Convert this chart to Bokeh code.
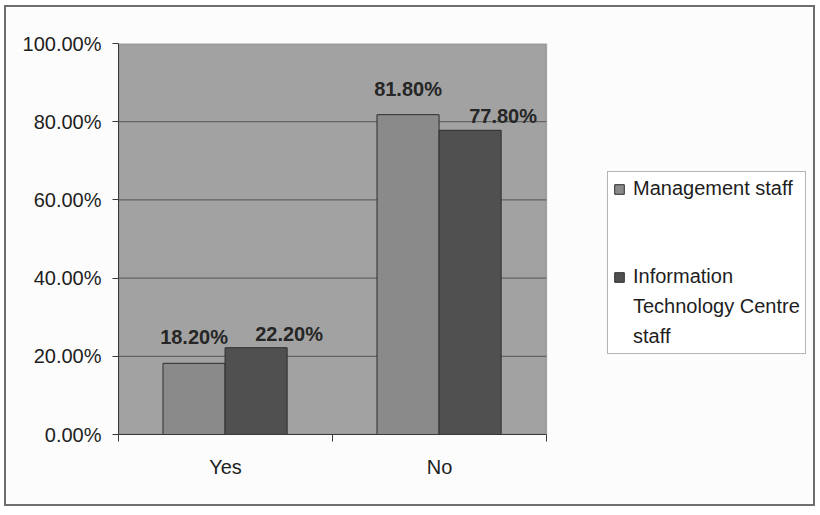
from bokeh.plotting import figure
from bokeh.models import (ColumnDataSource, Range1d, FixedTicker, LinearAxis,
                          NumeralTickFormatter, Legend, LegendItem, BoxAnnotation)
from bokeh.core.properties import value
from bokeh.embed import file_html
from bokeh.resources import INLINE
import numpy as np

# Survey answers, share of respondents
categories = ["Yes", "No"]
management_staff = [0.182, 0.818]
itc_staff = [0.222, 0.778]
y_ticks = [0.0, 0.2, 0.4, 0.6, 0.8, 1.0]

FONT = "Liberation Sans"
TEXT = "#1e1e1e"

# layout (pixels): the data area is 428 px wide, the frame also holds the legend
AREA_W, FRAME_W, FRAME_H = 428, 692, 391
n = len(categories)
x_end = n * FRAME_W / AREA_W

centers = np.arange(n) + 0.5
bar_w = 0.29
mgmt_x = centers - 0.147
itc_x = centers + 0.143

src_m = ColumnDataSource(dict(x=mgmt_x, top=management_staff,
                              label=[f"{v * 100:.2f}%" for v in management_staff]))
src_i = ColumnDataSource(dict(x=itc_x, top=itc_staff,
                              label=[f"{v * 100:.2f}%" for v in itc_staff]))

p = figure(frame_width=FRAME_W, frame_height=FRAME_H,
           output_backend="svg", toolbar_location=None,
           x_range=Range1d(0, x_end), y_range=Range1d(0, 1),
           x_axis_type=None, y_axis_type=None,
           min_border_left=112, min_border_right=3,
           min_border_top=36, min_border_bottom=70)
p.margin = (5, 0, 0, 4)
p.styles = {"border": "2px solid #6e6e6e"}
p.background_fill_color = "#fcfcfc"
p.border_fill_color = "#fcfcfc"
p.outline_line_color = None
p.xgrid.visible = False
p.ygrid.visible = False

# grey plot area
p.add_layout(BoxAnnotation(left=0, right=n, bottom=0, top=1, level="underlay",
                           fill_color="#a2a2a2", fill_alpha=1,
                           line_color="#4a4a4a", line_width=1.5))

# y axis
yax = LinearAxis(ticker=FixedTicker(ticks=y_ticks), bounds=(0, 1),
                 formatter=NumeralTickFormatter(format="0.00%"))
yax.axis_line_color = "#3a3a3a"
yax.major_tick_line_color = "#3a3a3a"
yax.major_tick_out = 6
yax.major_tick_in = 0
yax.minor_tick_line_color = None
yax.major_label_standoff = 11
yax.major_label_text_font = FONT
yax.major_label_text_font_size = "20px"
yax.major_label_text_color = TEXT
p.add_layout(yax, "left")

# x axis: category names centred, tick marks on category boundaries
xax = LinearAxis(ticker=FixedTicker(ticks=list(centers), minor_ticks=list(range(n + 1))),
                 bounds=(0, n),
                 major_label_overrides={float(c): name for c, name in zip(centers, categories)})
xax.axis_line_color = "#3a3a3a"
xax.major_tick_line_color = None
xax.minor_tick_line_color = "#3a3a3a"
xax.minor_tick_out = 7
xax.minor_tick_in = 0
xax.major_label_standoff = 14
xax.major_label_text_font = FONT
xax.major_label_text_font_size = "20px"
xax.major_label_text_color = TEXT
p.add_layout(xax, "below")

# horizontal gridlines across the plot area
grid_y = y_ticks[1:-1]
p.segment(x0=[0] * len(grid_y), x1=[n] * len(grid_y), y0=grid_y, y1=grid_y,
          line_color="#555555", line_width=1)

r_m = p.vbar(x="x", top="top", bottom=0, width=bar_w, source=src_m,
             fill_color="#8a8a8a", line_color="#2e2e2e", line_width=1)
r_i = p.vbar(x="x", top="top", bottom=0, width=bar_w, source=src_i,
             fill_color="#505050", line_color="#2e2e2e", line_width=1)
# glyph-less renderer for the wrapped continuation lines of the legend
r_blank = p.vbar(x=[], top=[], width=bar_w, fill_alpha=0, line_alpha=0)

p.text(x="x", y="top", text="label", source=src_m, text_align="center",
       text_baseline="bottom", y_offset=-15, text_font=value(FONT),
       text_font_style="bold", text_font_size="20px", text_color="#262626")
p.text(x="x", y="top", text="label", source=src_i, text_align="center",
       text_baseline="bottom", y_offset=-3, x_offset=33, text_font=value(FONT),
       text_font_style="bold", text_font_size="20px", text_color="#262626")

legend = Legend(items=[LegendItem(label="Management staff", renderers=[r_m]),
                       LegendItem(label=" ", renderers=[r_blank]),
                       LegendItem(label="  ", renderers=[r_blank]),
                       LegendItem(label="Information", renderers=[r_i]),
                       LegendItem(label="Technology Centre", renderers=[r_blank]),
                       LegendItem(label="staff", renderers=[r_blank])],
                location=(489, 80))
legend.label_text_font = FONT
legend.label_text_font_size = "20px"
legend.label_text_color = TEXT
legend.label_height = 22
legend.label_standoff = 8
legend.glyph_width = 12
legend.glyph_height = 12
legend.spacing = 7
legend.padding = 5
legend.margin = 0
legend.border_line_color = "#6a6a6a"
legend.border_line_width = 1
legend.background_fill_color = "white"
legend.background_fill_alpha = 1
p.add_layout(legend, "center")

open("out.html", "w").write(file_html(p, INLINE))
